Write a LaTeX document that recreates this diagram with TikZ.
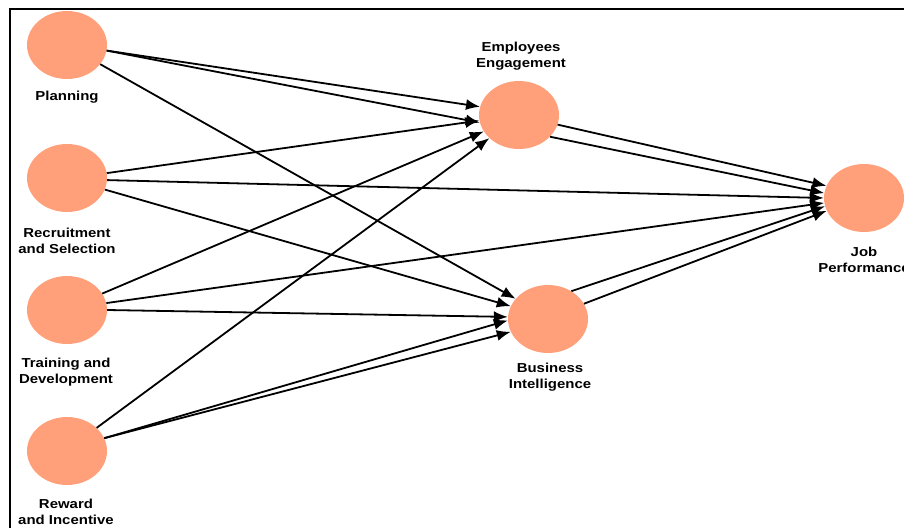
\documentclass[tikz,border=0pt]{standalone}
\usepackage{fontspec}
\setmainfont[FakeStretch=1.15]{Liberation Sans}
\usepackage{tikz}
\usetikzlibrary{arrows.meta,shapes.geometric}
\definecolor{salmon}{RGB}{255,160,122}
\tikzset{
	construct/.style={ellipse, fill=salmon, minimum width=80pt, minimum height=68pt, inner sep=0pt},
	conlabel/.style={align=center, inner sep=0pt, font=\fontsize{13}{16}\selectfont\bfseries},
	path/.style={line width=1.8pt, -{Latex[length=14pt,width=11pt]}}
}

\begin{document}
\begin{tikzpicture}[x=1pt,y=-1pt]
			\useasboundingbox (0,0) rectangle (904,527);
			\draw[line width=1.8pt] (10,9) rectangle (930,560);
			% constructs
			\node[construct] (pl) at (67,45)  {};
			\node[construct] (rs) at (67,178) {};
			\node[construct] (td) at (67,310) {};
			\node[construct] (ri) at (67,451) {};
			\node[construct] (ee) at (519,115) {};
			\node[construct] (bi) at (548,319) {};
			\node[construct] (jp) at (864,198) {};
			% labels
			\node[conlabel] (pl-lab) at (67,97)  {Planning};
			\node[conlabel] (rs-lab) at (67,241) {Recruitment\\and Selection};
			\node[conlabel] (td-lab) at (66,372) {Training and\\Development};
			\node[conlabel] (ri-lab) at (66,512) {Reward\\and Incentive};
			\node[conlabel] (ee-lab) at (521,56) {Employees\\Engagement};
			\node[conlabel] (bi-lab) at (550,377) {Business\\Intelligence};
			\node[conlabel] (jp-lab) at (864,260) {Job\\Performance};
			% paths
			\path[path]
			(pl.-8)  edge (ee.168) edge (ee.191)
			(pl.-30) edge (bi.148)
			(rs.7)   edge (ee.188)
			(rs.-3)  edge (jp.180)
			(rs.-17) edge (bi.161)
			(td.25)  edge (ee.205)
			(td.10)  edge (jp.187)
			(td.0)   edge (bi.177)
			(ri.38)  edge (ee.218)
			(ri.19)  edge (bi.182) edge (bi.199)
			(ee.-14) edge (jp.162)
			(ee.-35) edge (jp.173)
			(bi.50)  edge (jp.192)
			(bi.23)  edge (jp.199);
		\end{tikzpicture}
\end{document}
